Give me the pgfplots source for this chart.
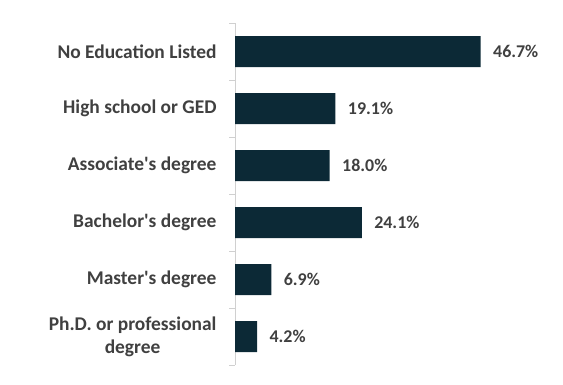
\documentclass[border=0pt]{standalone}
\usepackage{pgfplots}
\pgfplotsset{compat=1.18}
\usepackage{fontspec}
\setmainfont{Carlito}
\definecolor{barc}{RGB}{12,41,54}
\definecolor{txt}{RGB}{64,64,64}
\definecolor{axc}{RGB}{208,208,208}
\begin{document}
\begin{tikzpicture}[x=1bp,y=1bp]
\useasboundingbox (0,0) rectangle (563,384);
\begin{axis}[
  at={(235bp,19bp)}, anchor=south west,
  scale only axis, width=315.6bp, height=342bp,
  xmin=0, xmax=60,
  ymin=-0.5, ymax=5.5, y dir=reverse,
  axis x line=none,
  axis y line*=left,
  axis line style={axc, line width=0.8pt, -},
  ytick={0,1,2,3,4,5},
  yticklabels={No Education Listed, High school or GED, Associate\textquotesingle s degree, Bachelor\textquotesingle s degree, Master\textquotesingle s degree, {Ph.D. or professional\\degree}},
  major tick length=0pt,
  minor ytick={-0.5,0.5,1.5,2.5,3.5,4.5,5.5},
  minor tick length=6bp,
  tick align=outside,
  minor tick style={axc, line width=0.8pt},
  yticklabel style={font=\fontsize{19.5}{23}\selectfont\bfseries, text=txt, align=center, xshift=-15bp},
  xbar, bar width=31bp,
  point meta=x,
  /pgf/number format/assume math mode=true,
  nodes near coords={\pgfmathprintnumber[fixed,fixed zerofill,precision=1,assume math mode=true]{\pgfplotspointmeta}\%},
  nodes near coords style={font=\fontsize{18}{20}\selectfont\bfseries, text=txt, anchor=west, xshift=9bp},
  clip=false,
]
\addplot[fill=barc, draw=none] coordinates {
(46.7,0) (19.1,1) (18.0,2) (24.1,3) (6.9,4) (4.2,5)
};
\end{axis}
\end{tikzpicture}
\end{document}
